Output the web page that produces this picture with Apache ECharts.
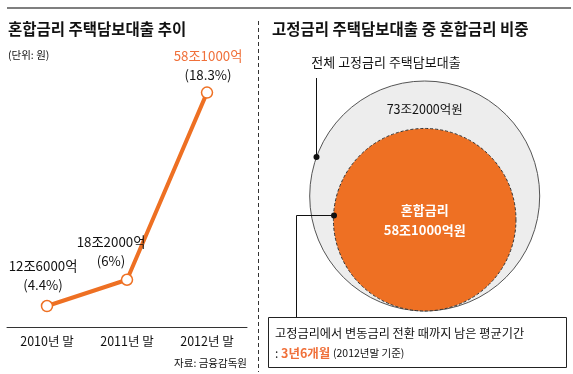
<!DOCTYPE html>
<html><head><meta charset="utf-8">
<script src="https://cdn.jsdelivr.net/npm/echarts@6/dist/echarts.min.js"></script>
<style>html,body{margin:0;padding:0;background:#fff}#c{width:573px;height:374px}</style>
</head><body><div id="c"></div>
<script>
// ---- data ----
const years = ['2010년 말', '2011년 말', '2012년 말'];
const amounts = [12.6, 18.2, 58.1];               // 조원
const amountText = ['12조6000억', '18조2000억', '58조1000억'];
const shareText = ['(4.4%)', '(6%)', '(18.3%)'];
const circleValues = [73.2, 58.1];                // 전체 고정금리, 혼합금리 (조원)
const circleText = ['73조2000억원', '혼합금리\n58조1000억원'];

// ---- styling ----
const F = '"Noto Sans CJK KR", "Noto Sans", sans-serif';
const ORANGE = '#EE7023';
const TXT = '#111';
const ptLabel = [
  { offset: [-4, 0], distance: 5 },
  { offset: [-16, 0], distance: 3 },
  { offset: [1, 0], distance: 2 }
];
const rGridH = 157.1, rMax = 100;
const pxPerUnit = rGridH / rMax;

const chart = echarts.init(document.getElementById('c'), null, { renderer: 'canvas' });
chart.setOption({
  animation: false,
  backgroundColor: '#fff',
  textStyle: { fontFamily: F },
  grid: [
    { left: 7, width: 240, top: 83.7, bottom: 46.4 },
    { left: 324.7, width: 200, bottom: 63, height: rGridH }
  ],
  xAxis: [
    {
      gridIndex: 0, type: 'category', data: years, boundaryGap: true,
      axisLine: { lineStyle: { color: '#333', width: 1 } },
      axisTick: { alignWithLabel: true, inside: true, length: 4, lineStyle: { color: '#333' } },
      axisLabel: { fontSize: 12.5, color: TXT, margin: 7, fontFamily: F }
    },
    { gridIndex: 1, type: 'value', min: -1, max: 1, show: false }
  ],
  yAxis: [
    { gridIndex: 0, type: 'value', min: 8, max: 60, show: false },
    { gridIndex: 1, type: 'value', min: 0, max: rMax, show: false }
  ],
  series: [
    {
      type: 'line', xAxisIndex: 0, yAxisIndex: 0,
      data: amounts.map((v, i) => ({ value: v, label: ptLabel[i] })),
      lineStyle: { color: ORANGE, width: 4 },
      symbol: 'circle', symbolSize: 11,
      itemStyle: { color: '#fff', borderColor: ORANGE, borderWidth: 1.5 },
      emphasis: { disabled: true },
      silent: true,
      label: {
        show: true, position: 'top',
        formatter: p => p.dataIndex === 2
          ? `{hi|${amountText[2]}}\n{n|${shareText[2]}}`
          : `{n|${amountText[p.dataIndex]}}\n{n|${shareText[p.dataIndex]}}`,
        rich: {
          n: { fontSize: 13.3, color: TXT, lineHeight: 19, fontFamily: F, align: 'center' },
          hi: { fontSize: 13.3, color: '#F0703A', lineHeight: 19, fontFamily: F, align: 'center' }
        }
      },
      z: 3
    },
    {
      type: 'scatter', xAxisIndex: 1, yAxisIndex: 1,
      data: [[0, circleValues[0]]],
      symbolSize: d => d[1] * 2 * pxPerUnit,
      itemStyle: { color: '#EDEDED', borderColor: '#555', borderWidth: 1, opacity: 1 },
      emphasis: { disabled: true }, silent: true,
      label: {
        show: true, formatter: circleText[0], position: ['50%', 29],
        align: 'center', verticalAlign: 'middle',
        fontSize: 12.5, color: TXT, fontFamily: F
      },
      z: 2
    },
    {
      type: 'scatter', xAxisIndex: 1, yAxisIndex: 1,
      data: [[0, circleValues[1]]],
      symbolSize: d => d[1] * 2 * pxPerUnit,
      itemStyle: { color: ORANGE, borderColor: '#333', borderWidth: 1, borderType: [3, 2], opacity: 1 },
      emphasis: { disabled: true }, silent: true,
      label: {
        show: true, formatter: circleText[1], position: 'inside',
        fontSize: 13, fontWeight: 'bold', color: '#fff', lineHeight: 20, fontFamily: F
      },
      z: 3
    }
  ],
  graphic: [
    { type: 'line', shape: { x1: 7, y1: 8, x2: 571, y2: 8 }, style: { stroke: '#555', lineWidth: 1.5 }, z: 100 },
    { type: 'line', shape: { x1: 258.5, y1: 21, x2: 258.5, y2: 372 }, style: { stroke: '#333', lineWidth: 1, lineDash: [4, 3] }, z: 100 },
    { type: 'text', x: 8, y: 29, style: { text: '혼합금리 주택담보대출 추이', font: 'bold 15.5px ' + F, fill: '#111', textVerticalAlign: 'middle', verticalAlign: 'middle' }, z: 100 },
    { type: 'text', x: 272, y: 29, style: { text: '고정금리 주택담보대출 중 혼합금리 비중', font: 'bold 15.5px ' + F, fill: '#111', textVerticalAlign: 'middle', verticalAlign: 'middle' }, z: 100 },
    { type: 'text', x: 8, y: 55, style: { text: '(단위: 원)', font: '10.5px ' + F, fill: TXT, textVerticalAlign: 'middle', verticalAlign: 'middle' }, z: 100 },
    { type: 'text', x: 247, y: 363, style: { text: '자료: 금융감독원', font: '10.5px ' + F, fill: TXT, textAlign: 'right', align: 'right', textVerticalAlign: 'middle', verticalAlign: 'middle' }, z: 100 },
    { type: 'text', x: 386, y: 62, style: { text: '전체 고정금리 주택담보대출', font: '13px ' + F, fill: TXT, textAlign: 'center', align: 'center', textVerticalAlign: 'middle', verticalAlign: 'middle' }, z: 100 },
    { type: 'polyline', shape: { points: [[316.5, 78], [316.5, 157]] }, style: { stroke: '#111', lineWidth: 1, fill: null }, z: 100 },
    { type: 'circle', shape: { cx: 316.5, cy: 157, r: 3 }, style: { fill: '#111' }, z: 100 },
    { type: 'polyline', shape: { points: [[334, 215.5], [296.5, 215.5], [296.5, 317]] }, style: { stroke: '#111', lineWidth: 1, fill: null }, z: 100 },
    { type: 'circle', shape: { cx: 334, cy: 215.5, r: 3 }, style: { fill: '#111' }, z: 100 },
    { type: 'rect', shape: { x: 268.5, y: 317.5, width: 298, height: 50 }, style: { fill: '#fff', stroke: '#222', lineWidth: 1 }, z: 100 },
    { type: 'text', x: 275, y: 333.5, style: { text: '고정금리에서 변동금리 전환 때까지 남은 평균기간', font: '12.2px ' + F, fill: TXT, textVerticalAlign: 'middle', verticalAlign: 'middle' }, z: 101 },
    { type: 'text', x: 275, y: 353, style: {
        text: '{c|:} {o|3년6개월} {s|(2012년말 기준)}',
        font: '12px ' + F, fill: TXT, textVerticalAlign: 'middle', verticalAlign: 'middle',
        rich: {
          c: { fontSize: 12, fill: TXT, color: TXT, fontFamily: F },
          o: { fontSize: 12.5, fontWeight: 'bold', fill: '#F0703A', color: '#F0703A', fontFamily: F },
          s: { fontSize: 10.5, fill: TXT, color: TXT, fontFamily: F }
        }
      }, z: 101 }
  ]
});
</script>
</body></html>
